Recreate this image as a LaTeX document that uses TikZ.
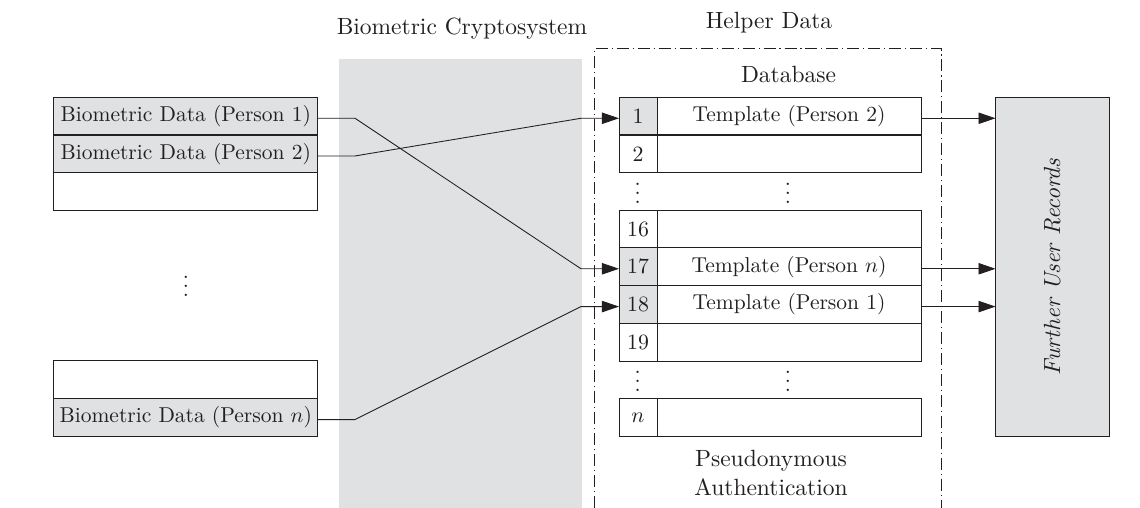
\documentclass[tikz,border=0pt]{standalone}
\usetikzlibrary{arrows.meta,calc}
\definecolor{panel}{HTML}{E0E1E3}
\definecolor{ink}{HTML}{231F20}
\newcommand{\ux}{0.458pt}
\newcommand{\rowtext}[1]{\raisebox{-0.8pt}{\scalebox{0.985}{#1}}}
\newcommand{\captext}[1]{\scalebox{1.075}{#1}}
\tikzset{
  x=0.458pt,y=-0.458pt,
  every node/.style={text=ink},
  cell/.style={draw=ink,line width=0.42pt,inner sep=0pt,outer sep=0pt},
  wide/.style={cell,minimum width={264*\ux},minimum height={37.7*\ux}},
  idx/.style={cell,minimum width={38*\ux},minimum height={37.7*\ux}},
  tpl/.style={cell,minimum width={264*\ux},minimum height={37.7*\ux}},
  filled/.style={fill=panel},
  conn/.style={draw=ink,line width=0.4pt},
  arr/.style={conn,-{Triangle[length=7.8pt,width=5.2pt]}},
  divider/.style={draw=ink,line width=0.65pt},
  label/.style={inner sep=0pt,outer sep=0pt,align=center}
}
\begin{document}
\begin{tikzpicture}
\useasboundingbox (0,0) rectangle (1140,508);
% gray band
\fill[panel] (338.5,59.3) rectangle (581.6,508);
% dash-dotted frame
\draw[ink,line width=0.4pt,dash pattern=on 5.5pt off 1.8pt on 0.5pt off 1.8pt]
  (594.4,508) -- (594.4,48.3) -- (941,48.3) -- (941,508);
% left tables
\node[wide,filled] (a1) at (185.8,116.2) {\rowtext{Biometric Data (Person 1)}};
\node[wide,filled] (a2) at (185.8,153.9) {\rowtext{Biometric Data (Person 2)}};
\node[wide] (a3) at (185.8,191.5) {};
\node[wide] (a4) at (185.8,379.7) {};
\node[wide,filled] (an) at (185.8,417.5) {\rowtext{Biometric Data (Person $n$)}};
\node[label] (dotsL) at (185.8,280) {$\vdots$};
% database rows
\foreach \nm/\yy/\txt/\ff in {1/116.2/1/panel,2/153.9/2/white,16/229/16/white,17/266.7/17/panel,18/304.5/18/panel,19/342.2/19/white,n/417.5/$n$/white}{
  \node[idx,fill=\ff] (i\nm) at (638,\yy) {\txt};
  \node[tpl] (t\nm) at (789,\yy) {};
}
\node[label] (l1) at (t1) {\rowtext{Template (Person 2)}};
\node[label] (l17) at (t17) {\rowtext{Template (Person $n$)}};
\node[label] (l18) at (t18) {\rowtext{Template (Person 1)}};
\node[label] (dots1) at (637.6,187) {$\vdots$};
\node[label] (dots2) at (788,187) {$\vdots$};
\node[label] (dots3) at (637.6,375) {$\vdots$};
\node[label] (dots4) at (788,375) {$\vdots$};
% thicker row separators
\draw[divider] (a1.south west) -- (a1.south east);
\draw[divider] (a2.south west) -- (a2.south east);
\draw[divider] (a4.south west) -- (a4.south east);
\draw[divider] (i1.south west) -- (t1.south east);
% right box
\node[cell,filled,minimum width={113.5*\ux},minimum height={339*\ux}] (rec) at (1052.3,266.8)
  {\rotatebox{90}{\scalebox{1.07}{\textit{Further User Records}}}};
% captions
\node[label] (capBC) at (462,29) {\captext{Biometric Cryptosystem}};
\node[label] (capHD) at (769,22.6) {\captext{Helper Data}};
\node[label] (capDB) at (788.5,74) {\captext{Database}};
\node[label] (capPA) at (771,461) {\captext{Pseudonymous}};
\node[label] (capPB) at (771,487.5) {\captext{Authentication}};
% connectors
\coordinate (s1) at ([yshift=-0.95pt]a1.east);
\coordinate (s2) at ([yshift=-0.95pt]a2.east);
\coordinate (sn) at ([yshift=-0.95pt]an.east);
\coordinate (e1) at ([yshift=-0.95pt]i1.west);
\coordinate (e17) at ([yshift=-0.95pt]i17.west);
\coordinate (e18) at ([yshift=-0.95pt]i18.west);
\draw[arr] (s1) -- ++(37.2,0) -- ($(e17)+(-38,0)$) -- (e17);
\draw[arr] (s2) -- ++(37.2,0) -- ($(e1)+(-38,0)$) -- (e1);
\draw[arr] (sn) -- ++(37.2,0) -- ($(e18)+(-38,0)$) -- (e18);
\draw[arr] ([yshift=-0.95pt]t1.east) -- ([yshift=-0.95pt]rec.west |- t1.east);
\draw[arr] ([yshift=-0.95pt]t17.east) -- ([yshift=-0.95pt]rec.west |- t17.east);
\draw[arr] ([yshift=-0.95pt]t18.east) -- ([yshift=-0.95pt]rec.west |- t18.east);
\end{tikzpicture}
\end{document}
